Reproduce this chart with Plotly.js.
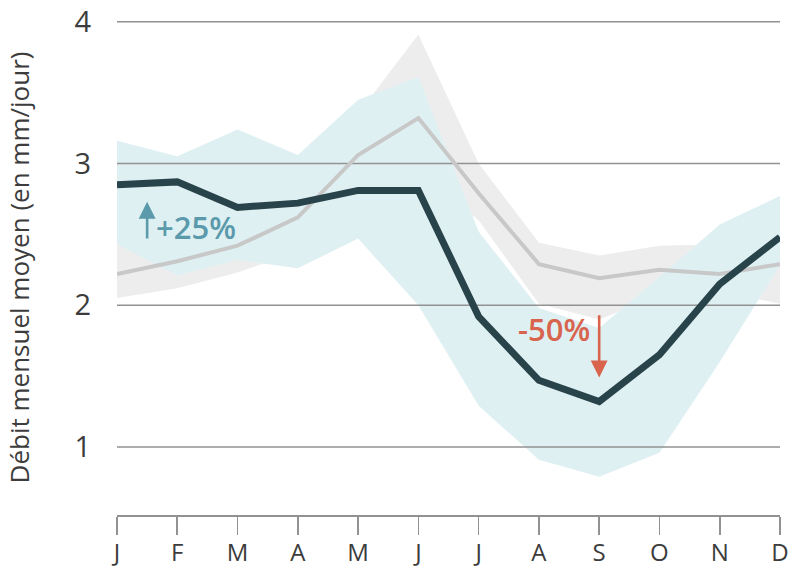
<!DOCTYPE html>
<html>
<head>
<meta charset="utf-8">
<script src="https://cdn.plot.ly/plotly-3.0.1.min.js"></script>
<style>
  html, body { margin: 0; padding: 0; background: #ffffff; }
  #chart { width: 794px; height: 567px; }
</style>
</head>
<body>
<div id="chart"></div>
<script>
// Month tick labels (Jan..Dec)
var months = ['J', 'F', 'M', 'A', 'M', 'J', 'J', 'A', 'S', 'O', 'N', 'D'];
var monthIndex = [0, 1, 2, 3, 4, 5, 6, 7, 8, 9, 10, 11];

// Historical mean flow (grey line) and its range (grey band)
var histMean = [2.22, 2.31, 2.42, 2.62, 3.06, 3.32, 2.79, 2.29, 2.19, 2.25, 2.22, 2.29];
var histLow  = [2.05, 2.12, 2.23, 2.38, 2.75, 2.95, 2.60, 2.01, 1.90, 2.07, 2.10, 2.01];
var histHigh = [2.50, 2.55, 2.70, 2.85, 3.35, 3.91, 3.00, 2.44, 2.35, 2.42, 2.43, 2.60];

// Projected mean flow (dark line) and its range (light blue band)
var futMean = [2.85, 2.87, 2.69, 2.72, 2.81, 2.81, 1.92, 1.47, 1.32, 1.65, 2.15, 2.48];
var futLow  = [2.43, 2.21, 2.32, 2.26, 2.47, 2.00, 1.29, 0.91, 0.79, 0.96, 1.60, 2.28];
var futHigh = [3.16, 3.05, 3.24, 3.06, 3.45, 3.61, 2.52, 1.98, 1.84, 2.20, 2.57, 2.77];

// Y axis tick values
var yTicks = [1, 2, 3, 4];

var greyBand = '#ededed';
var blueBand = '#dff0f3';
var greyLine = '#c8c8c8';
var darkLine = '#29434a';
var gridCol = '#929292';
var txtCol = '#3c3c3c';
var FONT = '"Open Sans", sans-serif';

var traces = [
  { x: monthIndex, y: histLow, type: 'scatter', mode: 'lines', line: { width: 0, color: greyBand }, hoverinfo: 'skip', showlegend: false },
  { x: monthIndex, y: histHigh, type: 'scatter', mode: 'lines', fill: 'tonexty', fillcolor: greyBand, line: { width: 0, color: greyBand }, hoverinfo: 'skip', showlegend: false },
  { x: monthIndex, y: futLow, type: 'scatter', mode: 'lines', line: { width: 0, color: blueBand }, hoverinfo: 'skip', showlegend: false },
  { x: monthIndex, y: futHigh, type: 'scatter', mode: 'lines', fill: 'tonexty', fillcolor: blueBand, line: { width: 0, color: blueBand }, hoverinfo: 'skip', showlegend: false }
];

// Horizontal grid lines drawn above the bands but below the lines (as in the reference)
var xFirst = monthIndex[0], xLast = monthIndex[monthIndex.length - 1];
yTicks.forEach(function (t) {
  traces.push({ x: [xFirst, xLast], y: [t, t], type: 'scatter', mode: 'lines', line: { width: 1.6, color: gridCol }, hoverinfo: 'skip', showlegend: false });
});

traces.push({ x: monthIndex, y: histMean, type: 'scatter', mode: 'lines', line: { width: 4, color: greyLine }, showlegend: false });
traces.push({ x: monthIndex, y: futMean, type: 'scatter', mode: 'lines', line: { width: 7, color: darkLine }, showlegend: false });

var layout = {
  width: 794,
  height: 567,
  margin: { l: 117, r: 14, t: 20, b: 52 },
  paper_bgcolor: '#ffffff',
  plot_bgcolor: '#ffffff',
  font: { family: FONT, color: txtCol },
  showlegend: false,
  xaxis: {
    range: [0, 11],
    tickvals: monthIndex,
    ticktext: months,
    showgrid: false,
    zeroline: false,
    showline: true,
    linecolor: gridCol,
    linewidth: 1.6,
    ticks: 'outside',
    ticklen: 18,
    tickwidth: 1.6,
    tickcolor: gridCol,
    ticklabelstandoff: -2,
    tickfont: { family: FONT, size: 24, color: txtCol },
    fixedrange: true
  },
  yaxis: {
    range: [0.52, 4.012],
    tickvals: yTicks,
    ticktext: yTicks.map(String),
    showgrid: false,
    zeroline: false,
    showline: false,
    ticks: '',
    ticklabelstandoff: 25,
    tickfont: { family: FONT, size: 29, color: txtCol },
    title: { text: 'Débit mensuel moyen (en mm/jour)', font: { family: FONT, size: 26, color: txtCol }, standoff: 37 },
    fixedrange: true
  },
  annotations: [
    { x: 0.5, y: 2.73, ax: 0.5, ay: 2.46, xref: 'x', yref: 'y', axref: 'x', ayref: 'y', text: '', showarrow: true, arrowhead: 2, arrowsize: 1.3, arrowwidth: 2.6, arrowcolor: '#5a9aab' },
    { x: 1.31, y: 2.55, xref: 'x', yref: 'y', text: '+25%', showarrow: false, font: { family: FONT, size: 31, color: '#5a9aab', weight: 600 } },
    { x: 8, y: 1.49, ax: 8, ay: 1.94, xref: 'x', yref: 'y', axref: 'x', ayref: 'y', text: '', showarrow: true, arrowhead: 2, arrowsize: 1.3, arrowwidth: 2.6, arrowcolor: '#d8644e' },
    { x: 7.25, y: 1.83, xref: 'x', yref: 'y', text: '-50%', showarrow: false, font: { family: FONT, size: 31, color: '#d8644e', weight: 600 } }
  ]
};

Plotly.newPlot('chart', traces, layout, { displayModeBar: false, staticPlot: true });
</script>
</body>
</html>
